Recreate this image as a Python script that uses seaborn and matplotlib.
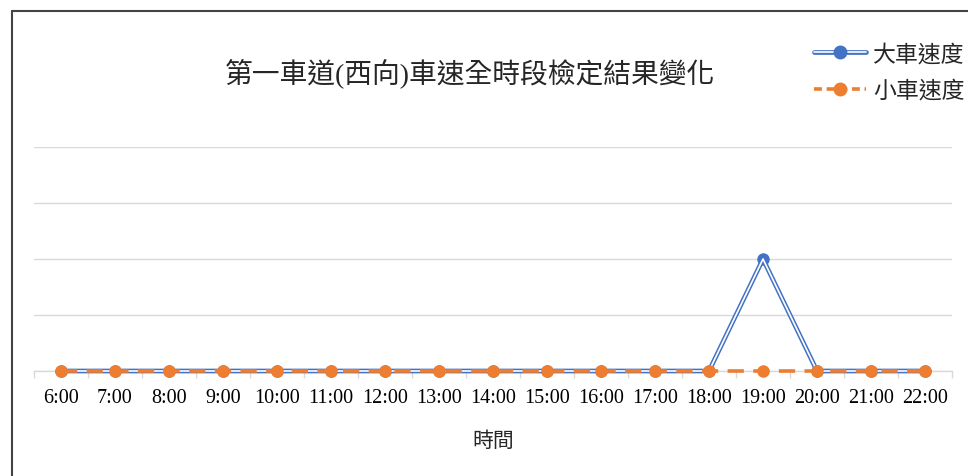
import matplotlib
matplotlib.use("Agg")
import matplotlib.pyplot as plt
from matplotlib.lines import Line2D
from matplotlib.legend_handler import HandlerTuple
import pandas as pd
import seaborn as sns

hours = ["6:00", "7:00", "8:00", "9:00", "10:00", "11:00", "12:00", "13:00", "14:00",
         "15:00", "16:00", "17:00", "18:00", "19:00", "20:00", "21:00", "22:00"]
big_speed = [0, 0, 0, 0, 0, 0, 0, 0, 0, 0, 0, 0, 0, 2, 0, 0, 0]
small_speed = [0, 0, 0, 0, 0, 0, 0, 0, 0, 0, 0, 0, 0, 0, 0, 0, 0]

title = "第一車道(西向)車速全時段檢定結果變化"
xlabel = "時間"
labels = ["大車速度", "小車速度"]

BLUE = "#4472C4"
ORANGE = "#ED7D31"
GRID = "#d9d9d9"
cjk = ["Liberation Serif", "Noto Sans CJK TC"]

sns.set_theme(style="white")
plt.rcParams["font.family"] = cjk

df = pd.DataFrame({"hour": hours, "big": big_speed, "small": small_speed})
df["pos"] = range(len(df))

fig = plt.figure(figsize=(9.68, 4.77), dpi=100)
ax = fig.add_axes([34 / 968, 1 - 372 / 477, (952 - 34) / 968, (372 - 148) / 477])

# big vehicles: double line (blue outline, white core)
sns.lineplot(data=df, x="pos", y="big", ax=ax, color=BLUE, linewidth=3.4,
             marker="o", markersize=9, markeredgewidth=0, zorder=3, clip_on=False)
sns.lineplot(data=df, x="pos", y="big", ax=ax, color="white", linewidth=1.2,
             zorder=4, clip_on=False)
# small vehicles: orange dashed
sns.lineplot(data=df, x="pos", y="small", ax=ax, color=ORANGE, linewidth=2.6,
             linestyle=(0, (4.5, 2.6)), marker="o", markersize=9,
             markeredgewidth=0, zorder=5, clip_on=False)

ax.set_xlim(-0.5, len(hours) - 0.5)
ax.set_ylim(0, 4)
ax.set_yticks([0, 1, 2, 3, 4])
ax.set_yticklabels([])
ax.yaxis.grid(True, color=GRID, linewidth=1)
ax.xaxis.grid(False)
ax.set_xticks(range(len(hours)))
ax.set_xticklabels(hours, fontsize=14.5, family="Liberation Serif")
ax.set_xticks([i - 0.5 for i in range(len(hours) + 1)], minor=True)
ax.tick_params(axis="x", which="major", length=0, pad=12, colors="black")
ax.tick_params(axis="x", which="minor", length=5, width=1, color=GRID, bottom=True)
ax.tick_params(axis="y", length=0)
for s in ["top", "right", "left"]:
    ax.spines[s].set_visible(False)
ax.spines["bottom"].set_color(GRID)
ax.spines["bottom"].set_linewidth(1)
ax.set_ylabel("")
ax.set_xlabel(xlabel, fontsize=15, family=cjk, labelpad=18)

fig.text(470 / 968, 1 - 73 / 477, title, ha="center", va="center",
         fontsize=20, family=cjk)

h_big = (Line2D([], [], color=BLUE, linewidth=3.4),
         Line2D([], [], color="white", linewidth=1.2),
         Line2D([], [], color=BLUE, marker="o", markersize=9, linestyle="none"))
h_small = Line2D([], [], color=ORANGE, linewidth=2.6, linestyle=(0, (2.2, 1.3)),
                 marker="o", markersize=9)
fig.legend([h_big, h_small], labels, handler_map={tuple: HandlerTuple(ndivide=1)},
           loc="upper left", bbox_to_anchor=(793 / 968, 1 - 24 / 477),
           frameon=False, handlelength=2.3, handletextpad=0.3,
           labelspacing=0.62, prop={"family": cjk, "size": 16.5})

# outer frame (left and top edges visible)
fig.add_artist(Line2D([12 / 968, 12 / 968], [0, 1 - 12 / 477], color="#444444",
                      linewidth=1.5, transform=fig.transFigure))
fig.add_artist(Line2D([12 / 968, 1], [1 - 12 / 477, 1 - 12 / 477], color="#444444",
                      linewidth=1.5, transform=fig.transFigure))

fig.savefig("out.png", dpi=100)
